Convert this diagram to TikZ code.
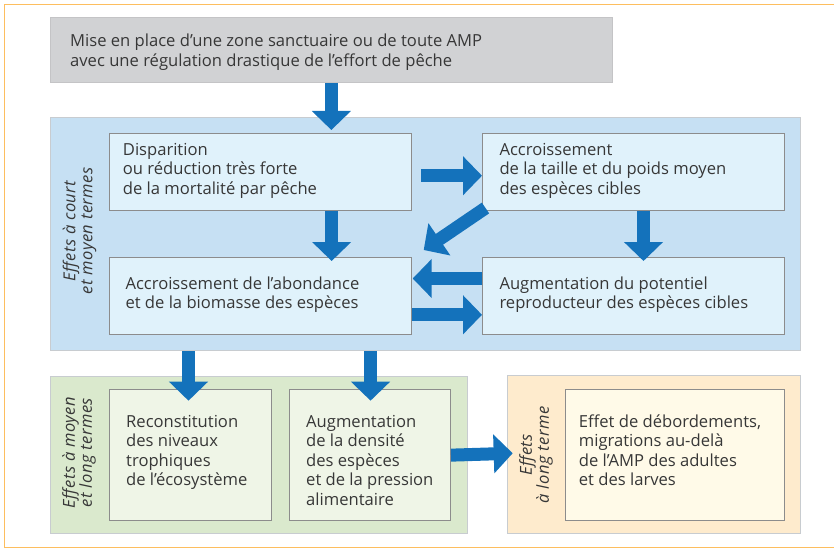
\documentclass[tikz,border=0pt]{standalone}
\usepackage{fontspec}
\setmainfont{Open Sans}
\usetikzlibrary{arrows.meta,calc}
\definecolor{txt}{RGB}{55,55,55}
\definecolor{frameor}{RGB}{253,190,95}
\definecolor{grayfill}{RGB}{209,210,212}
\definecolor{grayline}{RGB}{196,196,198}
\definecolor{bluepanel}{RGB}{198,224,243}
\definecolor{bluebox}{RGB}{224,242,251}
\definecolor{greenpanel}{RGB}{218,233,205}
\definecolor{greenbox}{RGB}{239,245,231}
\definecolor{orpanel}{RGB}{254,235,205}
\definecolor{orbox}{RGB}{255,250,232}
\definecolor{boxline}{RGB}{140,140,140}
\definecolor{panelline}{RGB}{200,204,208}
\definecolor{arrowblue}{RGB}{20,114,187}
\tikzset{
  panel/.style={rectangle, draw=panelline, line width=1pt, inner sep=0pt, anchor=north west},
  inbox/.style={rectangle, draw=boxline, line width=1pt, inner sep=0pt, anchor=north west},
  btext/.style={anchor=base west, inner sep=0pt, align=left, text=txt, font=\fontsize{16.6}{19.5}\selectfont},
  rlabel/.style={rotate=90, inner sep=0pt, align=center, text=txt, font=\fontsize{16.5}{17}\selectfont\itshape\addfontfeature{LetterSpace=3}},
  bigarrow/.style={draw=arrowblue, line width=13pt, -{Triangle[width=38pt,length=19pt]}},
}
\begin{document}
\begin{tikzpicture}[x=1pt,y=-1pt]
\useasboundingbox (0,0) rectangle (834,548);
% outer frame
\draw[frameor, line width=1.5pt] (4.7,548) -- (4.7,4.7) -- (834,4.7);
\draw[frameor, line width=1.5pt] (4.7,547.3) -- (834,547.3);

% top box
\node[panel, fill=grayfill, draw=grayline, minimum width=561.7pt, minimum height=65pt] (top) at (50,17.3) {};
\node[btext] (toptext) at (70,66.5) {Mise en place d’une zone sanctuaire ou de toute AMP\\avec une régulation drastique de l’effort de pêche};

% blue panel
\node[panel, fill=bluepanel, minimum width=750pt, minimum height=232.7pt] (blue) at (50,117.3) {};
\node[rlabel] (bluelab) at (79.5,231) {Effets à court\\et moyen termes};
\node[inbox, fill=bluebox, minimum width=301.7pt, minimum height=77.3pt] (disp) at (109.3,132.7) {};
\node[inbox, fill=bluebox, minimum width=302pt, minimum height=77.3pt] (accr) at (482,132.7) {};
\node[inbox, fill=bluebox, minimum width=301.7pt, minimum height=77.6pt] (abond) at (109.3,256.7) {};
\node[inbox, fill=bluebox, minimum width=302pt, minimum height=77.6pt] (augm) at (482,256.7) {};
\node[btext] (disptext) at (122.7,194) {Disparition\\ou réduction très forte\\de la mortalité par pêche};
\node[btext] (accrtext) at (499.3,194) {Accroissement\\de la taille et du poids moyen\\des espèces cibles};
\node[btext] (abondtext) at (125.3,308.5) {Accroissement de l’abondance\\et de la biomasse des espèces};
\node[btext] (augmtext) at (499.3,308.5) {Augmentation du potentiel\\reproducteur des espèces cibles};

% green panel
\node[panel, fill=greenpanel, minimum width=416.7pt, minimum height=157.3pt] (green) at (50,376) {};
\node[rlabel] (greenlab) at (79,452.6) {Effets à moyen\\et long termes};
\node[inbox, fill=greenbox, minimum width=161.4pt, minimum height=130.7pt] (recon) at (109.3,389.3) {};
\node[inbox, fill=greenbox, minimum width=161.3pt, minimum height=130.7pt] (dens) at (288.7,389.3) {};
\node[btext] (recontext) at (126,485.5) {Reconstitution\\des niveaux\\trophiques\\de l’écosystème};
\node[btext] (denstext) at (306,505) {Augmentation\\de la densité\\des espèces\\et de la pression\\alimentaire};

% orange panel
\node[panel, fill=orpanel, minimum width=293.3pt, minimum height=158.3pt] (orange) at (506.7,375) {};
\node[rlabel] (orlab) at (536,455) {Effets\\à long terme};
\node[inbox, fill=orbox, minimum width=219.3pt, minimum height=130.7pt] (spill) at (564.7,389.3) {};
\node[btext] (spilltext) at (578.7,485.5) {Effet de débordements,\\migrations au-delà\\de l’AMP des adultes\\et des larves};

% arrows
\draw[bigarrow] (top.south) -- ($(top.south |- blue.north)+(0,12.7)$);
\draw[bigarrow] ($(disp.south)+(71,0)$) -- ($(abond.north)+(71,4.3)$);
\draw[bigarrow] ($(disp.east)+(9,3.9)$) -- ($(accr.west)+(0,3.9)$);
\draw[bigarrow] ($(accr.south west)+(3.5,-3)$) -- ($(abond.north east)+(11.7,-6.7)$);
\draw[bigarrow] ($(accr.south)+(10,0)$) -- ($(augm.north)+(10,4.3)$);
\draw[bigarrow] ($(augm.west)+(0,-17.5)$) -- ($(abond.east)+(0.7,-17.5)$);
\draw[bigarrow] ($(abond.east)+(0,18.8)$) -- ($(augm.west)+(0,18.8)$);
\draw[bigarrow] ($(recon.north |- blue.south)+(-2,0)$) -- ($(recon.north)+(-2,11.4)$);
\draw[bigarrow] ($(dens.north |- blue.south)+(0.7,0)$) -- ($(dens.north)+(0.7,11.4)$);
\draw[bigarrow] (dens.east) -- ($(orange.west)+(6,-1.4)$);
\end{tikzpicture}
\end{document}
